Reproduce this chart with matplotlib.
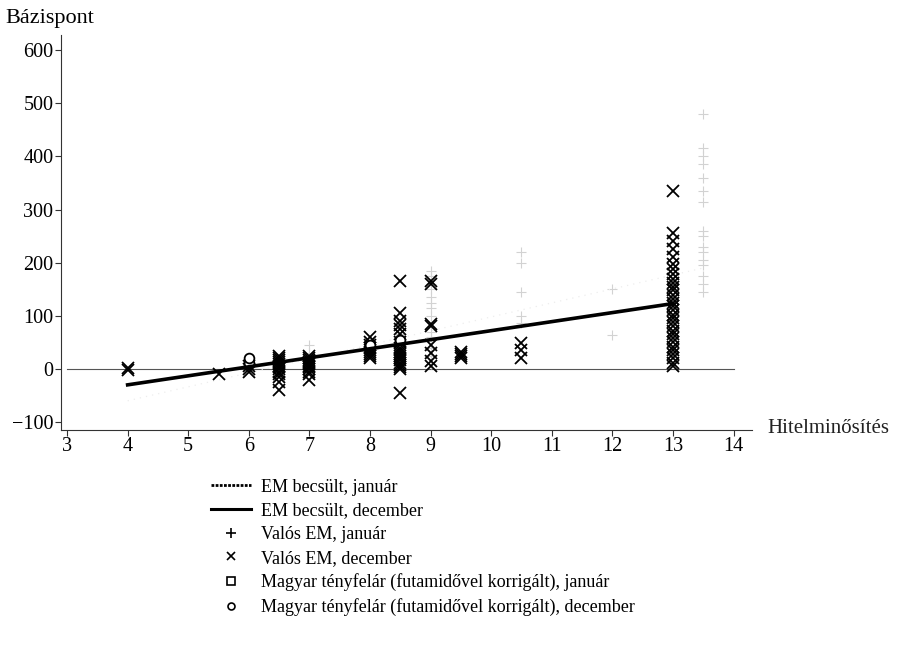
import matplotlib
matplotlib.use("Agg")
import matplotlib.pyplot as plt
from matplotlib.lines import Line2D

plt.rcParams['font.family'] = ['Liberation Serif', 'DejaVu Serif']

# Credit rating (x) vs. spread in basis points (y)
x_ticks = [3, 4, 5, 6, 7, 8, 9, 10, 11, 12, 13, 14]
y_ticks = [-100, 0, 100, 200, 300, 400, 500, 600]

# Estimated EM lines (endpoints of the fitted lines)
fit_jan_x = [4, 13.5]
fit_jan_y = [-60, 190]
fit_dec_x = [4, 13]
fit_dec_y = [-30, 123]

# Actual EM spreads, January (rating -> values)
em_jan = {
    6: [18],
    7: [45, 30],
    8: [40, 48],
    8.5: [55, 60],
    9: [185, 175, 160, 150, 135, 125, 115, 100, 70, 60, 40, 25, 10],
    10.5: [220, 200, 145, 100, 86],
    12: [64, 150],
    13.5: [480, 415, 400, 385, 360, 335, 315, 260, 250, 230, 220, 205,
           195, 175, 160, 145],
}

# Actual EM spreads, December
em_dec = {
    4: [-2, 2],
    5.5: [-10],
    6: [-5, 0, 5],
    6.5: [-40, -25, -15, -10, -5, 0, 3, 6, 10, 13, 16, 20, 25],
    7: [-20, -10, -5, 0, 3, 6, 10, 13, 16, 20, 25],
    8: [20, 24, 28, 32, 36, 40, 45, 50, 60],
    8.5: [-45, 0, 4, 8, 12, 16, 20, 24, 28, 32, 36, 40, 50, 65, 75, 82,
          90, 105, 165],
    9: [5, 15, 30, 45, 80, 85, 160, 165],
    9.5: [20, 24, 28, 32],
    10.5: [20, 35, 48],
    13: [5, 12, 20, 28, 35, 42, 50, 58, 65, 72, 80, 88, 95, 102, 110, 118,
         125, 132, 140, 148, 155, 162, 170, 178, 188, 198, 210, 225, 240,
         255, 335],
}

# Hungarian spreads (maturity adjusted)
hu_jan_x = [6, 8.5]
hu_jan_y = [18, 58]
hu_dec_x = [6, 6, 8, 8.5]
hu_dec_y = [12, 20, 45, 55]

legend_labels = [
    "EM becsült, január",
    "EM becsült, december",
    "Valós EM, január",
    "Valós EM, december",
    "Magyar tényfelár (futamidővel korrigált), január",
    "Magyar tényfelár (futamidővel korrigált), december",
]


def flatten(d):
    xs, ys = [], []
    for k, vals in d.items():
        xs += [k] * len(vals)
        ys += vals
    return xs, ys


fig = plt.figure(figsize=(8.97, 6.54), dpi=100)
ax = fig.add_axes([0.068, 0.3425, 0.77, 0.6035])

ax.set_xlim(2.9, 14.3)
ax.set_ylim(-115, 628)

# zero reference line
ax.plot([3, 14], [0, 0], color='#555555', lw=0.8, zorder=1)

jx, jy = flatten(em_jan)
ax.plot(jx, jy, linestyle='none', marker='+', ms=7, mew=0.8,
        color='#d2d2d2', zorder=2)
ax.plot(hu_jan_x, hu_jan_y, linestyle='none', marker='s', ms=6, mew=0.9,
        mfc='none', mec='#c0c0c0', zorder=2)
ax.plot(fit_jan_x, fit_jan_y, color='#ededed', lw=0.9, ls=(0, (1, 4)),
        zorder=2)

dx, dy = flatten(em_dec)
ax.plot(dx, dy, linestyle='none', marker='x', ms=8, mew=1.3,
        color='black', zorder=3)
ax.plot(hu_dec_x, hu_dec_y, linestyle='none', marker='o', ms=7, mew=1.3,
        mfc='white', mec='black', zorder=4)
ax.plot(fit_dec_x, fit_dec_y, color='black', lw=2.6, zorder=5)

for s in ['top', 'right']:
    ax.spines[s].set_visible(False)
for s in ['left', 'bottom']:
    ax.spines[s].set_color('#333333')
    ax.spines[s].set_linewidth(0.8)

ax.set_xticks(x_ticks)
ax.set_xticklabels([str(v) for v in x_ticks])
ax.set_yticks(y_ticks)
ax.set_yticklabels(['\u2212100' if v < 0 else str(v) for v in y_ticks])
ax.tick_params(axis='both', labelsize=14.5, length=4, width=0.8,
               color='#333333', direction='out')
ax.tick_params(axis='x', pad=1)
ax.tick_params(axis='y', pad=1.5)

fig.text(0.006, 0.972, "Bázispont", fontsize=16, ha='left', va='center')
fig.text(0.855, 0.345, "Hitelminősítés", fontsize=15, ha='left',
         va='center', color='#222222')

handles = [
    Line2D([], [], color='black', lw=2.0, ls=(0, (1, 0.5))),
    Line2D([], [], color='black', lw=2.2),
    Line2D([], [], color='black', ls='none', marker='+', ms=7, mew=1.2),
    Line2D([], [], color='black', ls='none', marker='x', ms=6, mew=1.2),
    Line2D([], [], color='black', ls='none', marker='s', ms=6, mew=1.2,
           mfc='none'),
    Line2D([], [], color='black', ls='none', marker='o', ms=5, mew=1.2,
           mfc='none'),
]
fig.legend(handles, legend_labels, loc='upper left',
           bbox_to_anchor=(0.227, 0.279), frameon=False, fontsize=13,
           handlelength=2.2, handletextpad=0.6, labelspacing=0.37,
           borderaxespad=0)

fig.savefig("out.png", dpi=100)
